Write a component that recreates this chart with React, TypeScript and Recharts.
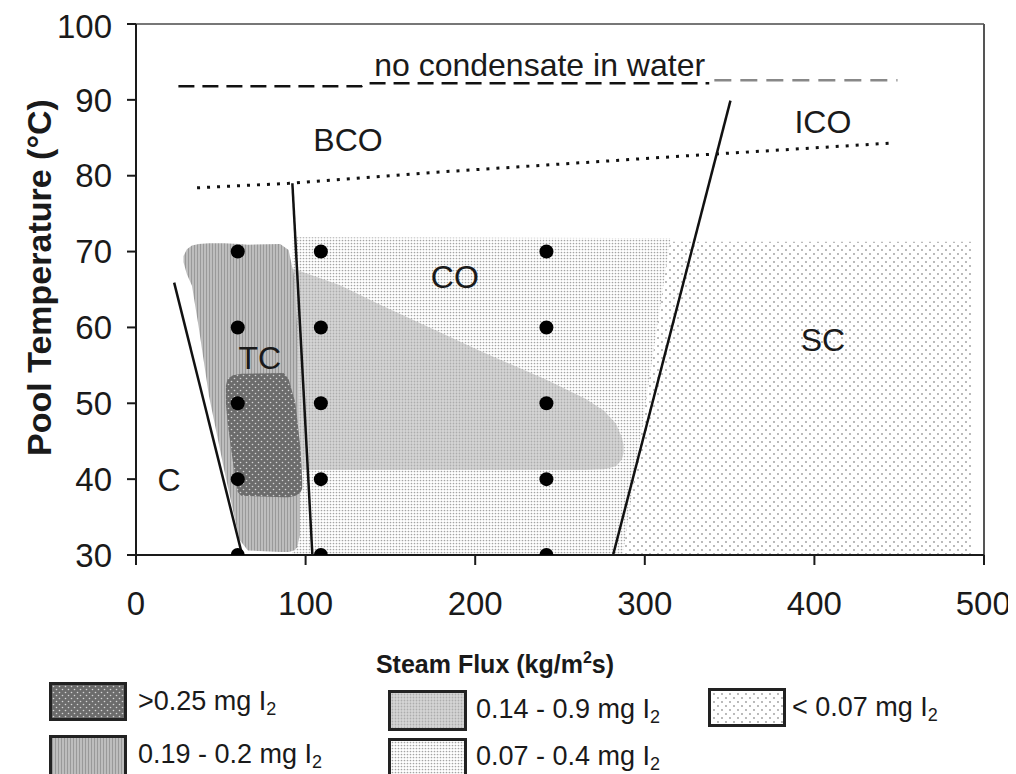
import React from 'react';
import {
    ComposedChart,
    Area,
    Line,
    Scatter,
    XAxis,
    YAxis,
    ReferenceLine,
    ReferenceDot,
} from 'recharts';

const X_TICKS = [0, 100, 200, 300, 400, 500];
const Y_TICKS = [30, 40, 50, 60, 70, 80, 90, 100];

// measured operating points
const MEASURED_POINTS = [
    {x: 60, y: 70}, {x: 60, y: 60}, {x: 60, y: 50}, {x: 60, y: 40}, {x: 60, y: 30},
    {x: 109, y: 70}, {x: 109, y: 60}, {x: 109, y: 50}, {x: 109, y: 40}, {x: 109, y: 30},
    {x: 242, y: 70}, {x: 242, y: 60}, {x: 242, y: 50}, {x: 242, y: 40}, {x: 242, y: 30},
];

// iodine regions as [low, high] temperature ranges over steam flux
const REGION_LOW = [
    {x: 96, range: [30, 71.3]},
    {x: 493, range: [30, 71.3]},
];

const REGION_MID_LOW = [
    {x: 92, range: [30, 71.9]},
    {x: 287, range: [30, 71.8]},
    {x: 315, range: [71.5, 71.8]},
];

const REGION_MID = [
    {x: 92, range: [41.2, 67.8]},
    {x: 120, range: [41.2, 65.6]},
    {x: 144, range: [41.2, 63.0]},
    {x: 175, range: [41.2, 59.8]},
    {x: 203, range: [41.2, 56.9]},
    {x: 242, range: [41.2, 53.1]},
    {x: 265, range: [41.2, 50.6]},
    {x: 276, range: [41.3, 49.0]},
    {x: 283, range: [41.7, 47.3]},
    {x: 286.5, range: [42.6, 45.5]},
    {x: 287.5, range: [43.5, 44.5]},
];

const REGION_TC = [
    {x: 28, range: [68.6, 69.4]},
    {x: 30, range: [67.0, 70.3]},
    {x: 33, range: [65.5, 70.8]},
    {x: 37, range: [60.0, 71.0]},
    {x: 43, range: [51.0, 71.1]},
    {x: 52, range: [41.2, 71.1]},
    {x: 61, range: [32.0, 71.0]},
    {x: 66, range: [30.6, 70.9]},
    {x: 85, range: [30.4, 71.0]},
    {x: 90, range: [30.4, 70.2]},
    {x: 93, range: [30.6, 67.0]},
    {x: 95, range: [31.0, 60.0]},
    {x: 96.5, range: [32.5, 40.0]},
];

const REGION_HIGH = [
    {x: 53, range: [50.0, 52.3]},
    {x: 54, range: [47.5, 53.2]},
    {x: 57, range: [42.5, 53.7]},
    {x: 60, range: [38.3, 53.8]},
    {x: 62, range: [37.8, 53.9]},
    {x: 87, range: [37.6, 54.0]},
    {x: 90, range: [37.6, 53.2]},
    {x: 94, range: [37.8, 50.0]},
    {x: 97, range: [38.2, 44.0]},
    {x: 98, range: [38.8, 40.0]},
];

// regime boundaries
const NO_CONDENSATE_A = [
    {x: 25, y: 91.8}, {x: 133, y: 91.8}, {x: 136, y: 92.2}, {x: 338, y: 92.2},
];
const NO_CONDENSATE_B = [
    {x: 341, y: 92.6}, {x: 449, y: 92.6},
];
const BCO_LIMIT = [
    {x: 36, y: 78.4}, {x: 90, y: 79.0}, {x: 173, y: 80.4}, {x: 323, y: 82.6}, {x: 445, y: 84.3},
];
const C_BOUNDARY = [{x: 22.5, y: 65.9}, {x: 62.6, y: 30}];
const TC_BOUNDARY = [{x: 92.2, y: 79.0}, {x: 104, y: 30}];
const SC_BOUNDARY = [{x: 350.5, y: 89.9}, {x: 281.3, y: 30}];

const REGIME_LABELS = [
    {x: 238, y: 94.6, text: 'no condensate in water'},
    {x: 125, y: 84.7, text: 'BCO'},
    {x: 405, y: 87.1, text: 'ICO'},
    {x: 188, y: 66.7, text: 'CO'},
    {x: 73, y: 56, text: 'TC'},
    {x: 405, y: 58.4, text: 'SC'},
    {x: 19.5, y: 39.9, text: 'C'},
];

const LEGEND_ITEMS = [
    {pattern: 'pat-high', label: '>0.25 mg I', left: 41, top: 674, w: 78, h: 39, tx: 130, ty: 695},
    {pattern: 'pat-mid', label: '0.14 - 0.9 mg I', left: 380, top: 682, w: 79, h: 41, tx: 468, ty: 703},
    {pattern: 'pat-low', label: '< 0.07 mg I', left: 700, top: 680, w: 78, h: 39, tx: 784, ty: 701},
    {pattern: 'pat-tc', label: '0.19 - 0.2 mg I', left: 41, top: 727, w: 78, h: 42, tx: 130, ty: 748},
    {pattern: 'pat-midlow', label: '0.07 - 0.4 mg I', left: 380, top: 730, w: 79, h: 42, tx: 468, ty: 750},
];

const FONT = '"Liberation Sans", Arial, Helvetica, sans-serif';
const INK = '#1a1a1a';

function Patterns() {
    return (
        <defs>
            <pattern id="pat-high" width="6" height="6" patternUnits="userSpaceOnUse">
                <rect width="6" height="6" fill="#6c6c6c"/>
                <circle cx="1.5" cy="1.5" r="0.8" fill="#d4d4d4"/>
                <circle cx="4.5" cy="4.5" r="0.8" fill="#d4d4d4"/>
            </pattern>
            <pattern id="pat-tc" width="3" height="3" patternUnits="userSpaceOnUse">
                <rect width="3" height="3" fill="#bdbdbd"/>
                <rect x="0" width="1" height="3" fill="#999999"/>
            </pattern>
            <pattern id="pat-mid" width="3" height="3" patternUnits="userSpaceOnUse">
                <rect width="3" height="3" fill="#d6d6d6"/>
                <circle cx="1.5" cy="1.5" r="0.9" fill="#adadad"/>
            </pattern>
            <pattern id="pat-midlow" width="3" height="3" patternUnits="userSpaceOnUse">
                <rect width="3" height="3" fill="#ffffff"/>
                <circle cx="1.5" cy="1.5" r="0.85" fill="#a4a4a4"/>
            </pattern>
            <pattern id="pat-low" width="8" height="8" patternUnits="userSpaceOnUse">
                <rect width="8" height="8" fill="#ffffff"/>
                <circle cx="2" cy="2" r="0.9" fill="#9a9a9a"/>
                <circle cx="6" cy="6" r="0.9" fill="#9a9a9a"/>
            </pattern>
        </defs>
    );
}

function YTitle(props: any) {
    const vb = props.viewBox || {x: 0, y: 16, width: 128, height: 531};
    const cx = vb.x + 31;
    const cy = vb.y + vb.height / 2 - 12;
    return (
        <text
            x={cx}
            y={cy}
            transform={`rotate(-90, ${cx}, ${cy})`}
            textAnchor="middle"
            dominantBaseline="central"
            fontFamily={FONT}
            fontWeight="bold"
            fontSize={34}
            fill={INK}
        >
            Pool Temperature (°C)
        </text>
    );
}

function XTitle(props: any) {
    const vb = props.viewBox || {x: 128, y: 547, width: 848, height: 120};
    const cx = vb.x + vb.width / 2 - 65;
    const cy = vb.y + 118;
    return (
        <text x={cx} y={cy} textAnchor="middle" fontFamily={FONT} fontWeight="bold" fontSize={25} fill={INK}>
            Steam Flux (kg/m
            <tspan fontSize={16} dy={-10}>2</tspan>
            <tspan dy={10}>s)</tspan>
        </text>
    );
}

const pointShape = (p: any) => <circle cx={p.cx} cy={p.cy} r={7} fill="#000"/>;

export default function App() {
    const tickStyle = {fontFamily: FONT, fontSize: 33, fill: INK};
    return (
        <div style={{position: 'relative', width: 1000, height: 766, overflow: 'hidden', fontFamily: FONT}}>
            <ComposedChart width={1000} height={680} margin={{top: 16, right: 24, left: 0, bottom: 0}}>
                <Patterns/>
                <XAxis
                    type="number"
                    dataKey="x"
                    domain={[0, 500]}
                    ticks={X_TICKS}
                    allowDataOverflow
                    height={133}
                    tickSize={10}
                    tickMargin={27}
                    tick={tickStyle}
                    stroke={INK}
                    axisLine={{stroke: INK, strokeWidth: 2}}
                    tickLine={{stroke: INK, strokeWidth: 2}}
                    label={<XTitle/>}
                />
                <YAxis
                    type="number"
                    dataKey="y"
                    domain={[30, 100]}
                    ticks={Y_TICKS}
                    allowDataOverflow
                    width={128}
                    tickSize={9}
                    tickMargin={15}
                    tick={tickStyle}
                    axisLine={{stroke: INK, strokeWidth: 2}}
                    tickLine={{stroke: INK, strokeWidth: 2}}
                    label={<YTitle/>}
                />
                <ReferenceLine y={100} stroke="#777" strokeWidth={2}/>
                <ReferenceLine x={500} stroke="#555" strokeWidth={2}/>

                <Area data={REGION_LOW} dataKey="range" type="linear" stroke="none" fill="url(#pat-low)" fillOpacity={1} isAnimationActive={false}/>
                <Area data={REGION_MID_LOW} dataKey="range" type="linear" stroke="none" fill="url(#pat-midlow)" fillOpacity={1} isAnimationActive={false}/>
                <Area data={REGION_MID} dataKey="range" type="linear" stroke="none" fill="url(#pat-mid)" fillOpacity={1} isAnimationActive={false}/>
                <Area data={REGION_TC} dataKey="range" type="linear" stroke="none" fill="url(#pat-tc)" fillOpacity={1} isAnimationActive={false}/>
                <Area data={REGION_HIGH} dataKey="range" type="linear" stroke="none" fill="url(#pat-high)" fillOpacity={1} isAnimationActive={false}/>

                <Line data={NO_CONDENSATE_A} dataKey="y" type="linear" stroke="#111" strokeWidth={2.5} strokeDasharray="16 8" dot={false} activeDot={false} isAnimationActive={false}/>
                <Line data={NO_CONDENSATE_B} dataKey="y" type="linear" stroke="#888" strokeWidth={2.5} strokeDasharray="17 9" dot={false} activeDot={false} isAnimationActive={false}/>
                <Line data={BCO_LIMIT} dataKey="y" type="linear" stroke="#111" strokeWidth={3} strokeDasharray="3 7" dot={false} activeDot={false} isAnimationActive={false}/>

                <ReferenceLine segment={C_BOUNDARY} stroke="#111" strokeWidth={2.5}/>
                <ReferenceLine segment={TC_BOUNDARY} stroke="#111" strokeWidth={2.5}/>
                <ReferenceLine segment={SC_BOUNDARY} stroke="#111" strokeWidth={2.5}/>

                <Scatter data={MEASURED_POINTS} dataKey="y" shape={pointShape} isAnimationActive={false}/>

                {REGIME_LABELS.map((l) => (
                    <ReferenceDot
                        key={l.text}
                        x={l.x}
                        y={l.y}
                        r={1}
                        fill="none"
                        stroke="none"
                        label={{value: l.text, position: 'center', fontSize: 32, fill: INK, fontFamily: FONT}}
                    />
                ))}
            </ComposedChart>

            {LEGEND_ITEMS.map((item) => (
                <React.Fragment key={item.pattern}>
                    <svg
                        width={item.w}
                        height={item.h}
                        style={{position: 'absolute', left: item.left, top: item.top}}
                    >
                        <rect x={1.5} y={1.5} width={item.w - 3} height={item.h - 3} fill={`url(#${item.pattern})`} stroke="#222" strokeWidth={3}/>
                    </svg>
                    <div
                        style={{
                            position: 'absolute',
                            left: item.tx,
                            top: item.ty,
                            transform: 'translateY(-50%)',
                            fontSize: 27,
                            color: INK,
                            whiteSpace: 'nowrap',
                            lineHeight: 1,
                        }}
                    >
                        {item.label}
                        <sub style={{fontSize: 18, verticalAlign: '-0.3em'}}>2</sub>
                    </div>
                </React.Fragment>
            ))}
        </div>
    );
}
